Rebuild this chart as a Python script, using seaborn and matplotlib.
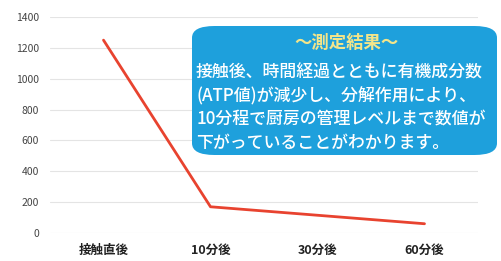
import matplotlib
matplotlib.use("Agg")
import matplotlib.pyplot as plt
import seaborn as sns
import pandas as pd
from matplotlib.patches import FancyBboxPatch

# データ
categories = ["接触直後", "10分後", "30分後", "60分後"]
atp_values = [1250, 170, 115, 60]
y_ticks = [0, 200, 400, 600, 800, 1000, 1200, 1400]

box_title = "〜測定結果〜"
box_lines = [
    "接触後、時間経過とともに有機成分数",
    "(ATP値)が減少し、分解作用により、",
    "10分程で厨房の管理レベルまで数値が",
    "下がっていることがわかります。",
]

sns.set_style("white")
plt.rcParams["font.family"] = ["Noto Sans CJK JP", "DejaVu Sans"]

df = pd.DataFrame({"time": categories, "atp": atp_values})

fig = plt.figure(figsize=(5.01, 2.61), dpi=100)
ax = fig.add_axes([50 / 501, 1 - 233 / 261, 428 / 501, 216 / 261])

sns.lineplot(data=df, x="time", y="atp", ax=ax, color="#e8432f", linewidth=2, sort=False)

ax.set_xlim(-0.5, len(categories) - 0.5)
ax.set_ylim(0, 1400)
ax.set_yticks(y_ticks)
ax.set_yticklabels([str(t) for t in y_ticks], fontsize=7.5, color="#444444")
ax.set_xticks(range(len(categories)))
ax.set_xticklabels(categories, fontsize=9, fontweight="bold", color="#222222")
ax.tick_params(axis="both", length=0, pad=8)
ax.set_xlabel("")
ax.set_ylabel("")
ax.grid(axis="y", color="#e4e4e4", linewidth=0.8)
sns.despine(ax=ax, left=True, bottom=True, top=True, right=True)

# 測定結果ボックス
box = FancyBboxPatch((192 / 501, 1 - 155 / 261), 305 / 501, 129 / 261,
                     boxstyle="round,pad=0,rounding_size=0.045",
                     transform=fig.transFigure, facecolor="#1ea0dc",
                     edgecolor="none", zorder=5)
fig.patches.append(box)
fig.text(346 / 501, 1 - 43 / 261, box_title, ha="center", va="center",
         fontsize=12.5, color="#f3e58a", fontweight="bold", zorder=6)
for i, line in enumerate(box_lines):
    fig.text(196 / 501, 1 - (73 + i * 23.3) / 261, line, ha="left", va="center",
             fontsize=12.2, color="white", fontweight="medium", zorder=6)

fig.savefig("out.png", dpi=100)
